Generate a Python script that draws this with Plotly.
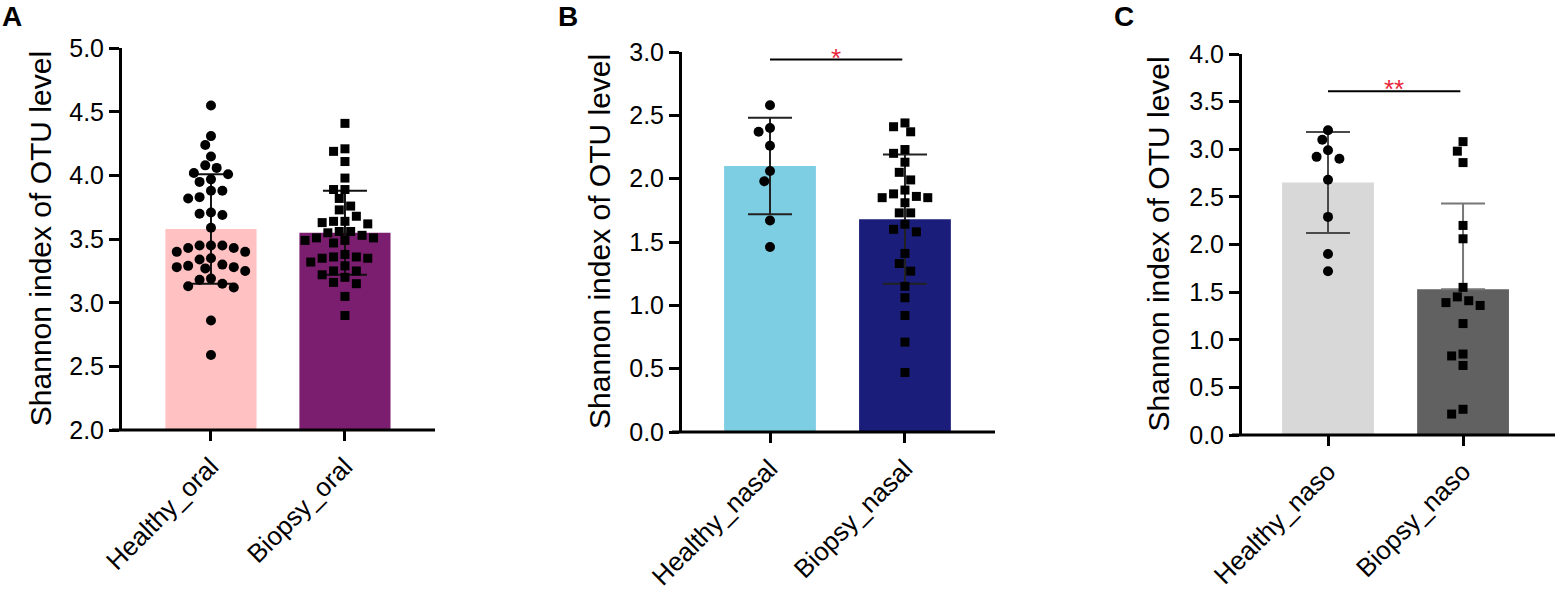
import plotly.graph_objects as go

FONT = "Liberation Sans, Arial, sans-serif"
W, H = 1558, 593

# ---- data ----
cats_oral = ["Healthy_oral", "Biopsy_oral"]
cats_nasal = ["Healthy_nasal", "Biopsy_nasal"]
cats_naso = ["Healthy_naso", "Biopsy_naso"]

healthy_oral = [4.55, 4.31, 4.24, 4.15, 4.08, 4.06, 4.02, 4.01, 3.97, 3.95,
                3.88, 3.88, 3.82, 3.83, 3.71, 3.70, 3.69, 3.59, 3.45, 3.45,
                3.45, 3.43, 3.43, 3.40, 3.40, 3.35, 3.34, 3.30, 3.29, 3.28,
                3.28, 3.27, 3.25, 3.19, 3.18, 3.15, 3.13, 3.12, 2.86, 2.59]
biopsy_oral = [4.41, 4.21, 4.19, 4.11, 3.98, 3.89, 3.89, 3.82, 3.76, 3.73,
               3.68, 3.64, 3.64, 3.63, 3.62, 3.56, 3.56, 3.55, 3.53, 3.51,
               3.51, 3.49, 3.49, 3.47, 3.38, 3.36, 3.36, 3.35, 3.35, 3.32,
               3.29, 3.25, 3.25, 3.22, 3.20, 3.16, 3.15, 3.05, 2.90]
healthy_nasal = [2.58, 2.40, 2.37, 2.26, 2.06, 1.98, 1.67, 1.46]
biopsy_nasal = [2.44, 2.41, 2.37, 2.23, 2.20, 2.13, 2.05, 1.99, 1.91, 1.88,
                1.86, 1.85, 1.85, 1.81, 1.73, 1.73, 1.64, 1.60, 1.58, 1.41,
                1.33, 1.27, 1.15, 1.06, 0.92, 0.71, 0.47]
healthy_naso = [3.20, 3.10, 2.99, 2.92, 2.90, 2.68, 2.29, 1.90, 1.72]
biopsy_naso = [3.08, 2.98, 2.86, 2.20, 2.06, 1.55, 1.45, 1.41, 1.39, 1.36,
               1.17, 0.85, 0.83, 0.73, 0.27, 0.22]

means_oral = [3.58, 3.55]
sd_oral = [0.43, 0.33]
means_nasal = [2.10, 1.68]
sd_nasal = [0.38, 0.51]
means_naso = [2.65, 1.53]
sd_naso = [0.53, 0.90]

sig_nasal, sig_nasal_y = "*", 2.94
sig_naso, sig_naso_y = "**", 3.61

# ---- panel setup (pixel positions measured on the reference) ----
panels = [
    dict(letter="A", cats=cats_oral, pts=[healthy_oral, biopsy_oral],
         means=means_oral, sd=sd_oral, colors=["#FFC1C1", "#7B1E6F"],
         err_colors=["#111111", "#111111"], lower=[True, True], yr=[2, 5],
         xdom=[122, 435], ydom=[430, 48.3], xr=[-0.664, 1.672],
         title_x=40, letter_x=-1, sig=None),
    dict(letter="B", cats=cats_nasal, pts=[healthy_nasal, biopsy_nasal],
         means=means_nasal, sd=sd_nasal, colors=["#7DCDE3", "#1A1E7A"],
         err_colors=["#222222", "#222222"], lower=[True, True], yr=[0, 3],
         xdom=[682, 995], ydom=[432, 52], xr=[-0.652, 1.667],
         title_x=599, letter_x=556, sig=(sig_nasal, sig_nasal_y)),
    dict(letter="C", cats=cats_naso, pts=[healthy_naso, biopsy_naso],
         means=means_naso, sd=sd_naso, colors=["#D8D8D8", "#616161"],
         err_colors=["#4a4a4a", "#777777"], lower=[True, False], yr=[0, 4],
         xdom=[1242, 1555], ydom=[435, 54], xr=[-0.637, 1.681],
         title_x=1158, letter_x=1112, sig=(sig_naso, sig_naso_y)),
]


def swarm(values, ppu_y, ppu_x, diam=10.5, step=5.7):
    # simple beeswarm: place each point at nearest free horizontal slot
    placed = []
    out = {}
    order = sorted(range(len(values)), key=lambda i: -values[i])
    for i in order:
        py = values[i] * ppu_y
        for n in range(80):
            k = ((n + 1) // 2) * (-1 if n % 2 else 1)
            px = k * step
            if all((px - qx) ** 2 + (py - qy) ** 2 >= diam ** 2 for qx, qy in placed):
                break
        placed.append((px, py))
        out[i] = px / ppu_x
    return [out[i] for i in range(len(values))]


fig = go.Figure()
layout = dict(width=W, height=H, margin=dict(l=0, r=0, t=0, b=0, autoexpand=False),
              paper_bgcolor="white", plot_bgcolor="white", showlegend=False,
              font=dict(family=FONT, color="black"))
shapes, annotations = [], []

for p_i, p in enumerate(panels):
    n = "" if p_i == 0 else str(p_i + 1)
    xa, ya = "x" + n, "y" + n
    x0p, x1p = p["xdom"]
    ybp, ytp = p["ydom"]
    dw, dh = x1p - x0p, ybp - ytp
    xdom = [x0p / W, x1p / W]
    ydom = [(H - ybp) / H, (H - ytp) / H]
    ppu_x = dw / (p["xr"][1] - p["xr"][0])
    ppu_y = dh / (p["yr"][1] - p["yr"][0])

    for j in range(2):
        err = dict(type="data", array=[p["sd"][j]], color=p["err_colors"][j],
                   thickness=2, width=22)
        if not p["lower"][j]:
            err.update(symmetric=False, arrayminus=[0])
        fig.add_trace(go.Bar(
            x=[j], y=[p["means"][j]], width=0.68, xaxis=xa, yaxis=ya,
            marker=dict(color=p["colors"][j], line=dict(width=0)),
            error_y=err, hoverinfo="skip"))
    for j in range(2):
        vals = p["pts"][j]
        offs = swarm(vals, ppu_y, ppu_x)
        fig.add_trace(go.Scatter(
            x=[j + o for o in offs], y=vals, mode="markers", xaxis=xa, yaxis=ya,
            marker=dict(color="black", size=10 if j == 0 else 9,
                        symbol="circle" if j == 0 else "square", line=dict(width=0)),
            cliponaxis=False, hoverinfo="skip"))

    layout["xaxis" + n] = dict(
        domain=xdom, range=p["xr"], anchor=ya, showgrid=False, zeroline=False,
        showline=False, tickmode="array", tickvals=[0, 1], ticktext=p["cats"],
        ticks="outside", ticklen=10, tickwidth=3, tickcolor="black", tickangle=-45,
        automargin=False, tickfont=dict(size=26, family=FONT, color="black"))
    layout["yaxis" + n] = dict(
        domain=ydom, range=p["yr"], anchor=xa, showgrid=False, zeroline=False,
        showline=True, linewidth=3, linecolor="black", dtick=0.5, tickformat=".1f",
        ticks="outside", ticklen=10, tickwidth=3, tickcolor="black", automargin=False,
        tickfont=dict(size=25, family=FONT, color="black"))

    # x axis line extends a little left of the y axis
    shapes.append(dict(type="line", xref=xa + " domain", yref=ya + " domain",
                       x0=-10 / dw, x1=1, y0=0, y1=0,
                       line=dict(color="black", width=3)))

    annotations.append(dict(text="Shannon index of OTU level", textangle=-90,
                            xref=xa + " domain", yref=ya + " domain",
                            x=(p["title_x"] - x0p) / dw, y=0.5,
                            xanchor="center", yanchor="middle", showarrow=False,
                            font=dict(size=30, family=FONT, color="black")))
    annotations.append(dict(text="<b>%s</b>" % p["letter"],
                            xref=xa + " domain", yref=ya + " domain",
                            x=(max(p["letter_x"], 0) - x0p) / dw,
                            y=(ybp + 1) / dh, xanchor="left", yanchor="top",
                            showarrow=False, font=dict(size=28, family=FONT, color="black")))
    if p["sig"]:
        label, yv = p["sig"]
        shapes.append(dict(type="line", xref=xa, yref=ya, x0=0, x1=0.98, y0=yv, y1=yv,
                           line=dict(color="black", width=2)))
        annotations.append(dict(text=label, xref=xa, yref=ya, x=0.49, y=yv, yshift=2,
                                xanchor="center", yanchor="middle", showarrow=False,
                                font=dict(size=26, family=FONT, color="#E8253A")))

layout["shapes"] = shapes
layout["annotations"] = annotations
fig.update_layout(**layout)
fig.write_html("out.html", config={"displayModeBar": False},
               post_script="document.body.style.margin='0px';")
